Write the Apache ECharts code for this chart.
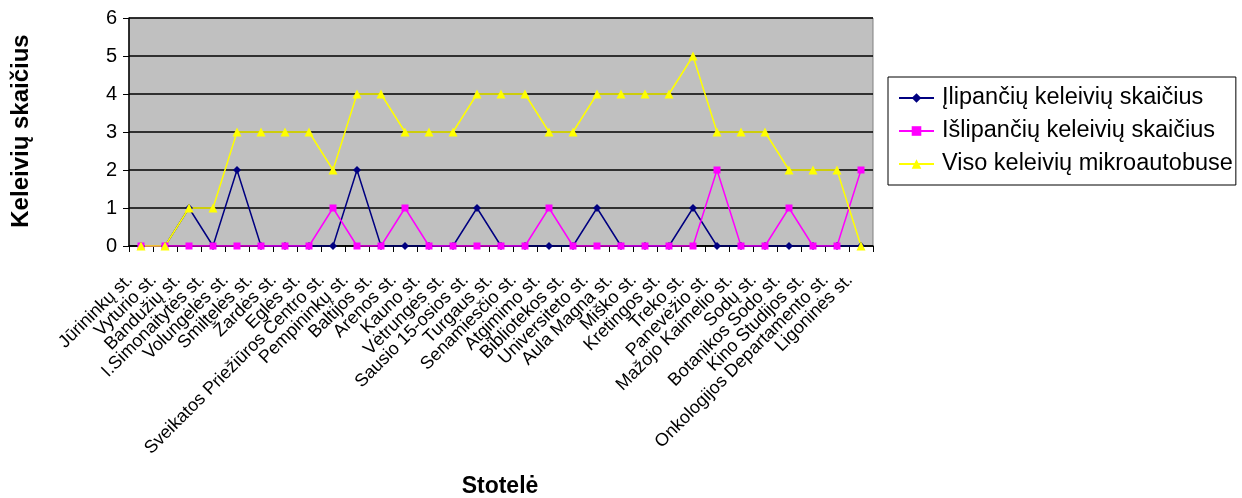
<!DOCTYPE html>
<html>
<head>
<meta charset="utf-8">
<script src="https://cdn.jsdelivr.net/npm/echarts@6/dist/echarts.min.js"></script>
<style>
html,body{margin:0;padding:0;background:#fff;}
#chart{width:1242px;height:498px;}
</style>
</head>
<body>
<div id="chart"></div>
<script>
const categories = [
  'Jūrininkų st.', 'Vyturio st.', 'Bandužių st.', 'I.Simonaitytės st.', 'Volungėlės st.',
  'Smiltelės st.', 'Žardės st.', 'Eglės st.', 'Sveikatos Priežiūros Centro st.', 'Pempininkų st.',
  'Baltijos st.', 'Arenos st.', 'Kauno st.', 'Vėtrungės st.', 'Sausio 15-osios st.',
  'Turgaus st.', 'Senamiesčio st.', 'Atgimimo st.', 'Bibliotekos st.', 'Universiteto st.',
  'Aula Magna st.', 'Miško st.', 'Kretingos st.', 'Treko st.', 'Panevėžio st.',
  'Mažojo Kaimelio st.', 'Sodų st.', 'Botanikos Sodo st.', 'Kino Studijos st.',
  'Onkologijos Departamento st.', 'Ligoninės st.'
];
const boarding = [0,0,1,0,2,0,0,0,0,2,0,0,0,0,1,0,0,0,0,1,0,0,0,1,0,0,0,0,0,0,0];
const alighting = [0,0,0,0,0,0,0,0,1,0,0,1,0,0,0,0,0,1,0,0,0,0,0,0,2,0,0,1,0,0,2];
const onboard = [0,0,1,1,3,3,3,3,2,4,4,3,3,3,4,4,4,3,3,4,4,4,4,5,3,3,3,2,2,2,0];
const yTicks = [0,1,2,3,4,5,6];
const seriesNames = ['Įlipančių keleivių skaičius', 'Išlipančių keleivių skaičius', 'Viso keleivių mikroautobuse'];
const yTitle = 'Keleivių skaičius';
const xTitle = 'Stotelė';

const FONT = '"Liberation Sans", Arial, sans-serif';
const chart = echarts.init(document.getElementById('chart'), null, {renderer: 'canvas'});
chart.setOption({
  animation: false,
  backgroundColor: '#ffffff',
  grid: {
    left: 129, right: 369, top: 18, bottom: 252,
    show: true, backgroundColor: '#C0C0C0', borderColor: '#808080', borderWidth: 1
  },
  legend: {
    orient: 'vertical',
    left: 888, top: 77,
    padding: [9, 3, 9, 10],
    borderColor: '#000', borderWidth: 1,
    itemWidth: 35, itemHeight: 12, itemGap: 9,
    textStyle: {fontFamily: FONT, fontSize: 23.5, color: '#000', lineHeight: 24, padding: [0,0,0,3]},
    data: seriesNames
  },
  xAxis: {
    type: 'category',
    data: categories,
    boundaryGap: true,
    axisLine: {lineStyle: {color: '#000', width: 1.5}},
    axisTick: {show: true, alignWithLabel: false, length: 6, lineStyle: {color: '#000'}},
    axisLabel: {
      interval: 0, rotate: 45, margin: 20, color: '#000',
      fontFamily: FONT, fontSize: 18, padding: [0, 16, 0, 0]
    },
    splitLine: {show: false}
  },
  yAxis: {
    type: 'value',
    min: yTicks[0], max: yTicks[yTicks.length - 1], interval: 1,
    axisLine: {show: true, lineStyle: {color: '#000', width: 1.5}},
    axisTick: {show: true, length: 6, lineStyle: {color: '#000'}},
    axisLabel: {color: '#000', fontFamily: FONT, fontSize: 20, margin: 12},
    splitLine: {show: true, lineStyle: {color: '#000', width: 1.5}}
  },
  graphic: [
    {type: 'text', x: 21, y: 131, rotation: Math.PI / 2,
     style: {text: yTitle, fontFamily: FONT, fontSize: 24, fontWeight: 'bold', fill: '#000', align: 'center', verticalAlign: 'middle'}},
    {type: 'text', x: 500, y: 487,
     style: {text: xTitle, fontFamily: FONT, fontSize: 23, fontWeight: 'bold', fill: '#000', align: 'center', verticalAlign: 'middle'}}
  ],
  series: [
    {name: seriesNames[0], type: 'line', data: boarding, color: '#000080',
     symbol: 'diamond', symbolSize: 8, lineStyle: {width: 1.5, color: '#000080'}, itemStyle: {color: '#000080'}},
    {name: seriesNames[1], type: 'line', data: alighting, color: '#FF00FF',
     symbol: 'rect', symbolSize: 7, lineStyle: {width: 1.5, color: '#FF00FF'}, itemStyle: {color: '#FF00FF'}},
    {name: seriesNames[2], type: 'line', data: onboard, color: '#FFFF00',
     symbol: 'triangle', symbolSize: 9, lineStyle: {width: 1.5, color: '#FFFF00'}, itemStyle: {color: '#FFFF00'}}
  ]
});
</script>
</body>
</html>
